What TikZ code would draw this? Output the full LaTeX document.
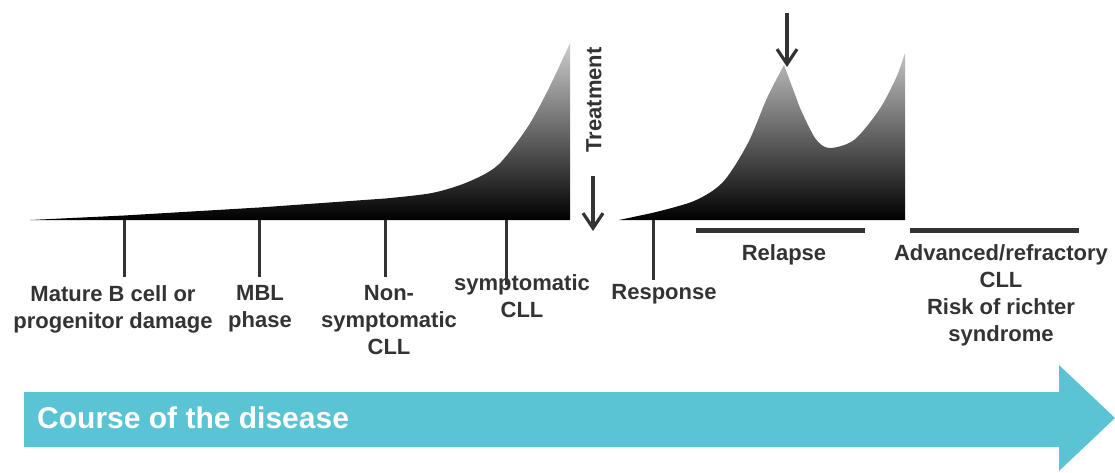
\documentclass[tikz,border=0pt]{standalone}
\usepackage{fontspec}
\setmainfont{Liberation Sans}
\usetikzlibrary{arrows.meta}
\definecolor{txtgray}{HTML}{333333}
\definecolor{coursecol}{HTML}{5AC4D4}
\begin{document}
\begin{tikzpicture}[x=1pt,y=-1pt,
  lbl/.style={font=\fontsize{22}{27}\selectfont\bfseries, text=txtgray, align=center, inner sep=0pt, anchor=north},
  tickline/.style={line width=3pt, draw=txtgray},
  phasebar/.style={line width=5pt, draw=txtgray},
  downarrow/.style={line width=3.2pt, draw=txtgray, -{Straight Barb[length=15pt,width=20pt]}},
]
\useasboundingbox (0,0) rectangle (1115,472);

% shaded curves
\begin{scope}
  \clip (30,220) -- (124,215.5) -- (259,207.5)
        -- plot[smooth, tension=0.5] coordinates {(385,198.5) (432,193) (468,182) (498,165) (527,128) (548,90) (570,43)} -- (570,220) -- cycle
        (619,220) -- plot[smooth, tension=0.5] coordinates {(652,213) (694,201) (723,182) (748,143) (767,98) (784,65)}
        -- plot[smooth, tension=0.5] coordinates {(800,108) (815,138) (829,148) (854,140) (879,110) (896,78) (905,53)} -- (905,220) -- cycle;
  \shade[top color=black!18, middle color=black!62, bottom color=black] (0,40) rectangle (1115,220);
\end{scope}

% ticks
\coordinate (t1) at (124,220);
\coordinate (t1e) at (124,277);
\coordinate (t2) at (259,220);
\coordinate (t2e) at (259,277);
\coordinate (t3) at (385,220);
\coordinate (t3e) at (385,277);
\coordinate (t4) at (506,220);
\coordinate (t4e) at (506,285);
\coordinate (t5) at (653,220);
\coordinate (t5e) at (653,280);
\draw[tickline] (t1) -- (t1e);
\draw[tickline] (t2) -- (t2e);
\draw[tickline] (t3) -- (t3e);
\draw[tickline] (t4) -- (t4e);
\draw[tickline] (t5) -- (t5e);

% phase bars
\coordinate (r1) at (696,230);
\coordinate (r2) at (865,230);
\coordinate (a1) at (910,230);
\coordinate (a2) at (1079,230);
\draw[phasebar] (r1) -- (r2);
\draw[phasebar] (a1) -- (a2);

% arrows
\coordinate (ta1) at (593,176);
\coordinate (ta2) at (593,231);
\draw[downarrow] (ta1) -- (ta2);
\coordinate (pa1) at (787,13);
\coordinate (pa2) at (787,67);
\draw[downarrow] (pa1) -- (pa2);

\node[lbl, rotate=90, anchor=center] (treat) at (594,100) {Treatment};

% labels
\node[lbl] (l1) at (113,285) {Mature B cell or\\progenitor damage};
\node[lbl] (l2) at (260,285) {MBL\\phase};
\node[lbl] (l3) at (389,285) {Non-\\symptomatic\\CLL};
\node[lbl] (l4) at (522,274) {symptomatic\\CLL};
\node[lbl] (l5) at (664,284) {Response};
\node[lbl] (l6) at (784,244) {Relapse};
\node[lbl] (l7) at (1001,244) {Advanced/refractory\\CLL\\Risk of richter\\syndrome};

% course arrow
\fill[coursecol] (24,392) -- (1059,392) -- (1059,365) -- (1115,418) -- (1059,471) -- (1059,447) -- (24,447) -- cycle;
\node[font=\fontsize{30}{36}\selectfont\bfseries, text=white, anchor=west, inner sep=0pt] (course) at (37,418) {Course of the disease};
\end{tikzpicture}
\end{document}
